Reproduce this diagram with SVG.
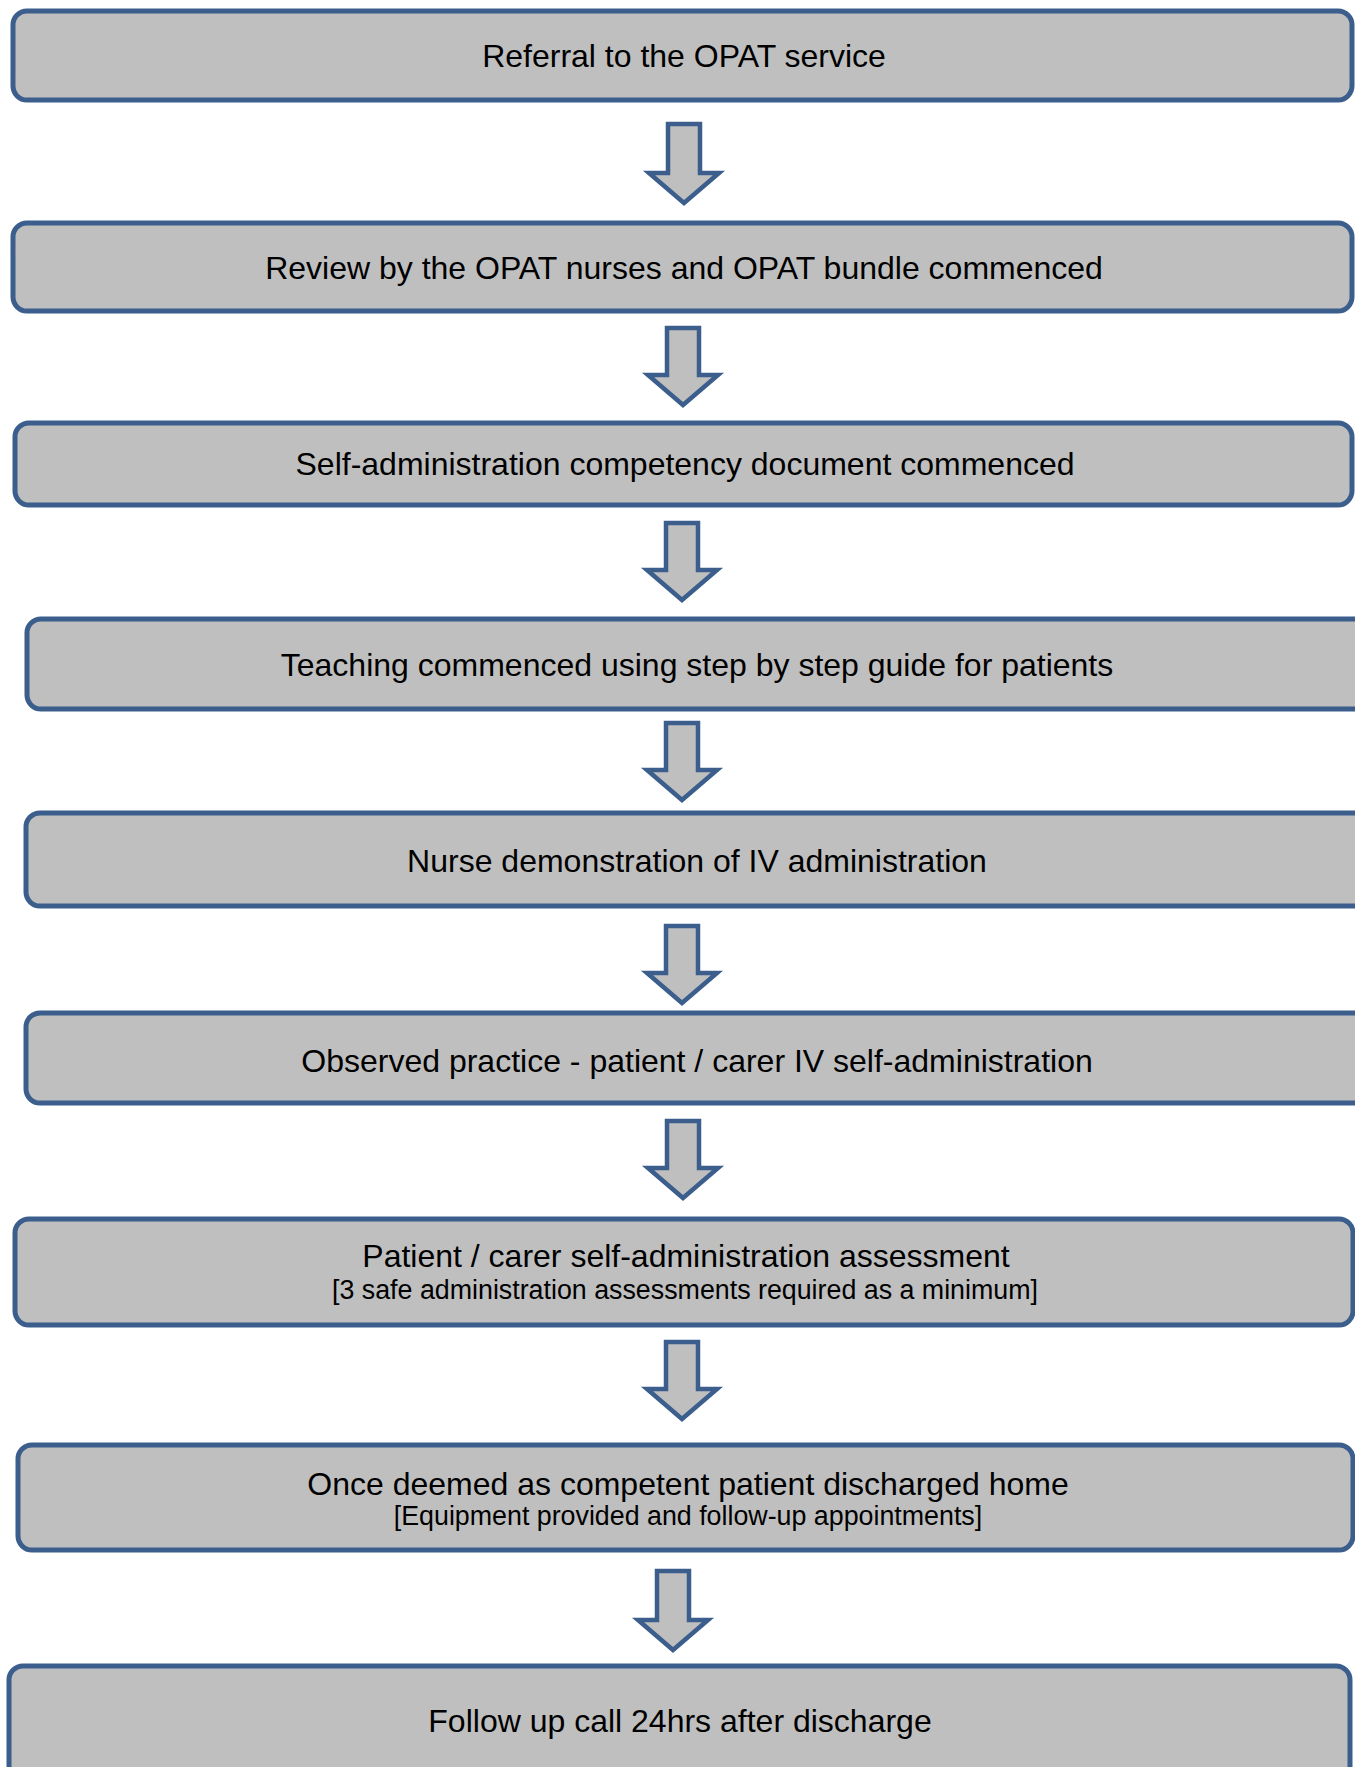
<svg xmlns="http://www.w3.org/2000/svg" width="1355" height="1767" viewBox="0 0 1355 1767">
<style>
.box{fill:#BFBFBF;stroke:#3B5E8C;stroke-width:5}
.arr{fill:#BFBFBF;stroke:#3B5E8C;stroke-width:4.5;stroke-linejoin:miter}
.t{font-family:"Liberation Sans",Arial,sans-serif;font-size:32px;fill:#000;text-anchor:middle}
.s{font-family:"Liberation Sans",Arial,sans-serif;font-size:26.8px;fill:#000;text-anchor:middle}
</style>
<rect width="1355" height="1767" fill="#fff"/>
<g id="connectors">
<path class="arr" d="M668,124 H700 V173 H719 L684,203 L649,173 H668 Z"/>
<path class="arr" d="M667,328 H699 V375 H718 L683,405 L648,375 H667 Z"/>
<path class="arr" d="M666,523 H698 V570 H717 L682,600 L647,570 H666 Z"/>
<path class="arr" d="M666,723 H698 V770 H717 L682,800 L647,770 H666 Z"/>
<path class="arr" d="M666,926 H698 V973 H717 L682,1003 L647,973 H666 Z"/>
<path class="arr" d="M667,1121 H699 V1168 H718 L683,1198 L648,1168 H667 Z"/>
<path class="arr" d="M666,1342 H698 V1389 H717 L682,1419 L647,1389 H666 Z"/>
<path class="arr" d="M657,1571 H689 V1620 H708 L673,1650 L638,1620 H657 Z"/>
</g>
<g id="n1"><rect class="box" x="13" y="11" width="1339" height="89" rx="14"/><text class="t" x="684" y="67">Referral to the OPAT service</text></g>
<g id="n2"><rect class="box" x="13" y="223" width="1339" height="88" rx="14"/><text class="t" x="684" y="279">Review by the OPAT nurses and OPAT bundle commenced</text></g>
<g id="n3"><rect class="box" x="15" y="423" width="1337" height="82" rx="14"/><text class="t" x="685" y="475">Self-administration competency document commenced</text></g>
<g id="n4"><rect class="box" x="27" y="619" width="1360" height="90" rx="14"/><text class="t" x="697" y="676">Teaching commenced using step by step guide for patients</text></g>
<g id="n5"><rect class="box" x="26" y="813" width="1360" height="93" rx="14"/><text class="t" x="697" y="872">Nurse demonstration of IV administration</text></g>
<g id="n6"><rect class="box" x="26" y="1013" width="1360" height="90" rx="14"/><text class="t" x="697" y="1072">Observed practice - patient / carer IV self-administration</text></g>
<g id="n7"><rect class="box" x="15" y="1219" width="1338" height="106" rx="14"/><text class="t" x="686" y="1267">Patient / carer self-administration assessment</text><text class="s" x="685" y="1299">[3 safe administration assessments required as a minimum]</text></g>
<g id="n8"><rect class="box" x="18" y="1445" width="1335" height="105" rx="14"/><text class="t" x="688" y="1495">Once deemed as competent patient discharged home</text><text class="s" x="688" y="1525">[Equipment provided and follow-up appointments]</text></g>
<g id="n9"><rect class="box" x="9" y="1666" width="1341" height="130" rx="14"/><text class="t" x="680" y="1732">Follow up call 24hrs after discharge</text></g>
</svg>
